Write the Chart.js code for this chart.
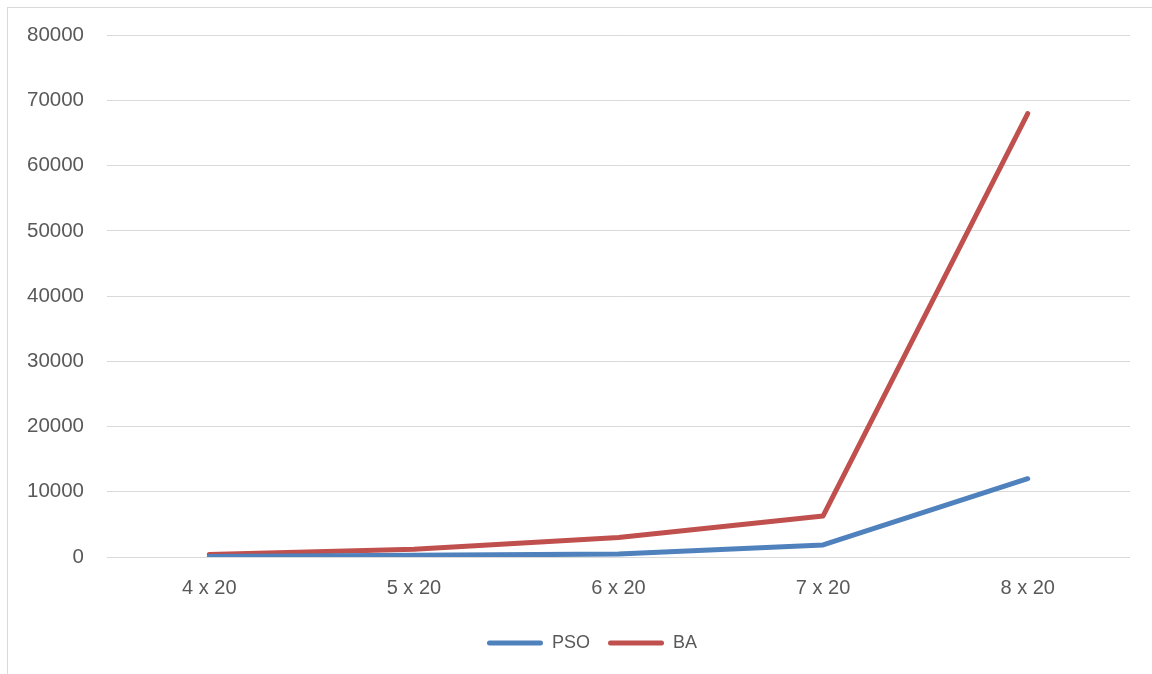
<!DOCTYPE html>
<html>
<head>
<meta charset="utf-8">
<script src="https://cdn.jsdelivr.net/npm/chart.js@4.4.0/dist/chart.umd.min.js"></script>
<style>
  html, body { margin: 0; padding: 0; background: #fff; }
  #wrap { position: relative; width: 1152px; height: 674px; overflow: hidden; }
  #frame { position: absolute; left: 7px; top: 7px; width: 1160px; height: 680px; border: 1px solid #d9d9d9; box-sizing: border-box; }
  #chart { position: absolute; left: 0; top: 0; }
</style>
</head>
<body>
<div id="wrap">
  <div id="frame"></div>
  <canvas id="chart" width="1152" height="674"></canvas>
</div>
<script>
// --- data ---
const categories = ['4 x 20', '5 x 20', '6 x 20', '7 x 20', '8 x 20'];
const psoValues = [60, 250, 450, 1850, 12000];
const baValues = [400, 1200, 3000, 6300, 68000];
const yTicks = [0, 10000, 20000, 30000, 40000, 50000, 60000, 70000, 80000];

const TEXT = '#595959';
const GRID = '#d9d9d9';
const FAMILY = "'Liberation Sans', Arial, sans-serif";

// legend in the original sits a little right of centre
const shiftLegend = {
    id: 'shiftLegend',
    afterLayout(chart) {
        if (chart.legend) {
            chart.legend.left += 27;
            chart.legend.right += 27;
        }
    }
};

new Chart(document.getElementById('chart'), {
    type: 'line',
    data: {
        labels: categories,
        datasets: [
            { label: 'PSO', data: psoValues, borderColor: '#4f81bd', backgroundColor: '#4f81bd' },
            { label: 'BA', data: baValues, borderColor: '#c0504d', backgroundColor: '#c0504d' }
        ]
    },
    options: {
        responsive: false,
        animation: false,
        layout: { padding: { top: 30, right: 22, bottom: 12, left: 0 } },
        elements: {
            line: { borderWidth: 5, tension: 0, borderCapStyle: 'round', borderJoinStyle: 'round' },
            point: { radius: 0 }
        },
        plugins: {
            tooltip: { enabled: false },
            legend: {
                position: 'bottom',
                labels: {
                    color: TEXT,
                    font: { family: FAMILY, size: 18 },
                    boxWidth: 56,
                    boxHeight: 5,
                    padding: 18,
                    useBorderRadius: true,
                    borderRadius: 2.5,
                    generateLabels(chart) {
                        return Chart.defaults.plugins.legend.labels.generateLabels(chart).map(item => {
                            item.lineWidth = 0;
                            return item;
                        });
                    }
                }
            }
        },
        scales: {
            x: {
                offset: true,
                grid: { display: false },
                border: { display: false },
                ticks: { color: TEXT, font: { family: FAMILY, size: 20 }, padding: 11 },
                afterFit(scale) { scale.height = 59; }
            },
            y: {
                min: 0,
                max: 80000,
                afterBuildTicks(scale) { scale.ticks = yTicks.map(v => ({ value: v })); },
                grid: { color: GRID, lineWidth: 1, drawTicks: false },
                border: { display: false },
                ticks: { color: TEXT, font: { family: FAMILY, size: 20.5 }, padding: 23, callback: v => String(v) },
                afterFit(scale) { scale.width = 107; }
            }
        }
    },
    plugins: [shiftLegend]
});
</script>
</body>
</html>
